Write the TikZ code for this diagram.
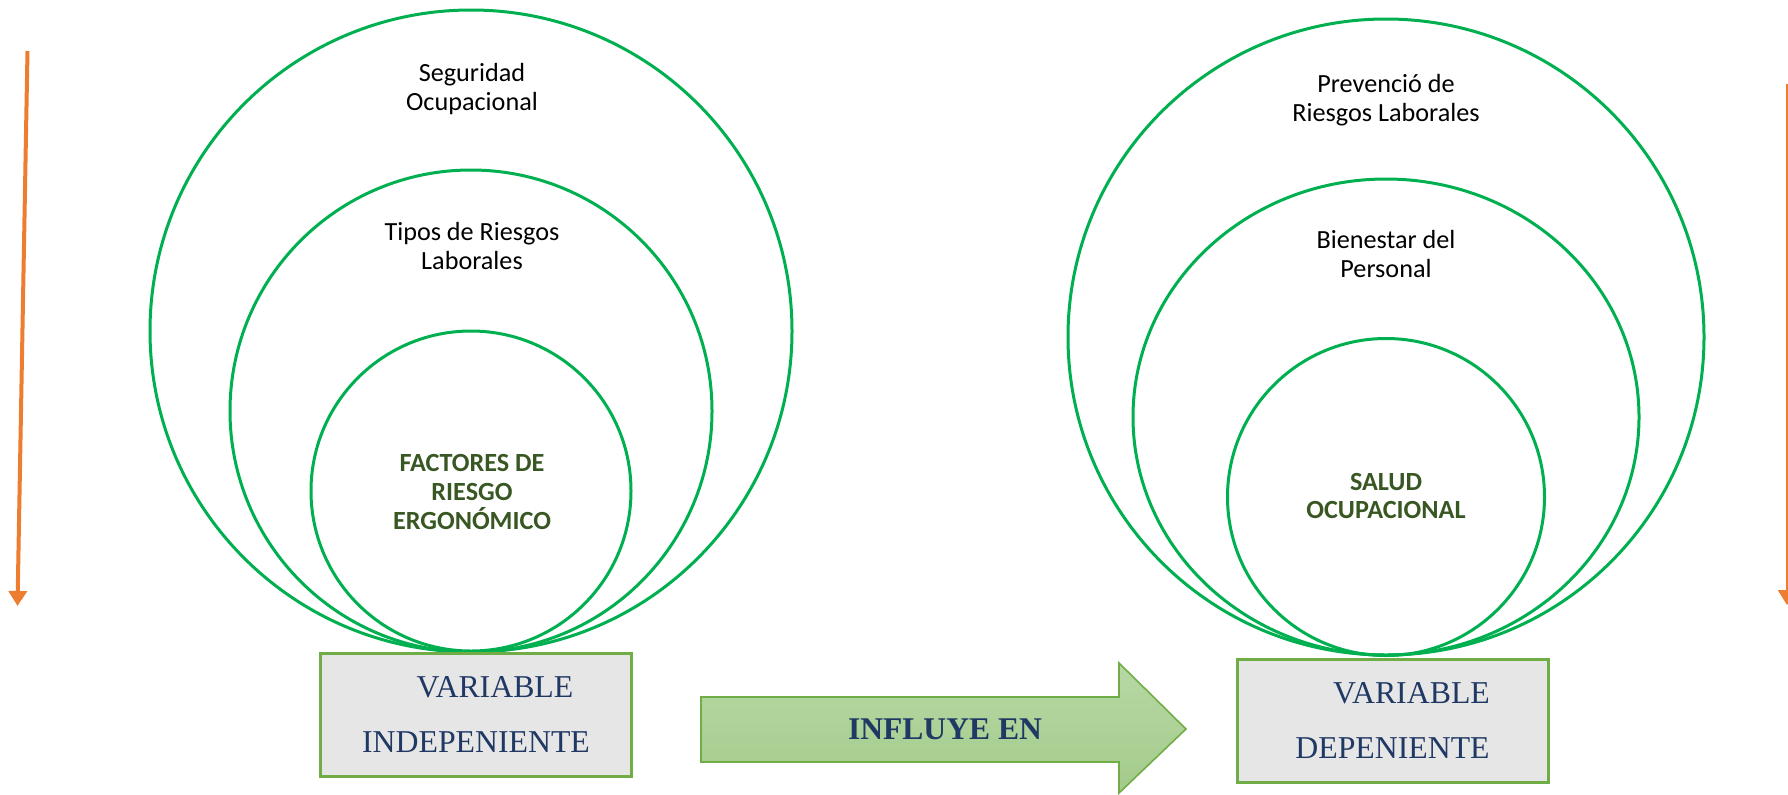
\documentclass[tikz,border=0pt]{standalone}
\usepackage{fontspec}
\setmainfont{Liberation Serif}
\newfontfamily\calibri{Carlito}
\usepackage{xcolor}
\definecolor{ringgreen}{RGB}{0, 176, 80}
\definecolor{coregreen}{RGB}{56, 87, 35}
\definecolor{navy}{RGB}{31, 56, 100}
\definecolor{boxgray}{RGB}{231, 230, 230}
\definecolor{boxedge}{RGB}{112, 173, 71}
\definecolor{arrowtop}{RGB}{183, 216, 164}
\definecolor{arrowbottom}{RGB}{163, 203, 139}
\definecolor{flowcolor}{RGB}{237, 125, 49}
\usepackage{tikz}
\usetikzlibrary{arrows.meta,shapes.geometric}

\tikzset{
  ring/.style = {
    draw        = ringgreen,
    line width  = 1.5pt,
    circle,
    inner sep   = 0pt
  },
  ringlabel/.style = {
    align       = center,
    inner sep   = 0pt,
    font        = \calibri\fontsize{13.1}{14.5}\selectfont
  },
  corelabel/.style = {
    align       = center,
    inner sep   = 0pt,
    text        = coregreen,
    font        = \calibri\bfseries\fontsize{13.1}{14.3}\selectfont
  },
  varbox/.style = {
    draw            = boxedge,
    line width      = 1.5pt,
    fill            = boxgray,
    minimum width   = 155.5pt,
    minimum height  = 61.5pt,
    align           = center,
    text            = navy,
    font            = \fontsize{15.9}{27.5}\selectfont
  },
  flow/.style = {
    draw        = flowcolor,
    line width  = 2pt,
    -{Triangle[length=7.5pt, width=9pt]}
  }
}

\begin{document}
\begin{tikzpicture}[x=0.5pt, y=-0.5pt]
  \useasboundingbox (0,0) rectangle (1788,794);

  \node[ring, minimum size=321pt] (seguridadRing) at (471,331) {};
  \node[ring, minimum size=241pt] (tiposRing) at (471,411) {};
  \node[ring, minimum size=160pt] (factoresRing) at (471,491) {};
  \node[ringlabel] (seguridad) at (472,89) {Seguridad\\Ocupacional};
  \node[ringlabel] (tipos) at (472,246) {Tipos de Riesgos\\Laborales};
  \node[corelabel] (factores) at (472,492) {FACTORES DE\\RIESGO\\ERGONÓMICO};

  \node[ring, minimum size=318pt] (prevencionRing) at (1386,337) {};
  \node[ring, ellipse, minimum width=253pt, minimum height=238pt] (bienestarRing) at (1386,417) {};
  \node[ring, minimum size=158.5pt] (saludRing) at (1386,497) {};
  \node[ringlabel] (prevencion) at (1386,100) {Prevenció de\\Riesgos Laborales};
  \node[ringlabel] (bienestar) at (1386,254) {Bienestar del\\Personal};
  \node[corelabel] (salud) at (1386,496) {SALUD\\OCUPACIONAL};

  \node[varbox] (independiente) at (476,714.5) {\hspace*{19pt}VARIABLE\\INDEPENIENTE};
  \node[varbox] (dependiente) at (1392.5,720.5) {\hspace*{19pt}VARIABLE\\DEPENIENTE};

  \draw[draw=boxedge, line width=0.8pt, top color=arrowtop, bottom color=arrowbottom]
    (701,697) -- (1119,697) -- (1119,663) -- (1186,729)
    -- (1119,793) -- (1119,762) -- (701,762) -- cycle;
  \node[text=navy, font=\bfseries\fontsize{15.8}{18}\selectfont] (influye) at (945,729) {INFLUYE EN};

  \coordinate (leftTop) at (27.5,51);
  \coordinate (leftEnd) at (17.5,606);
  \draw[flow] (leftTop) -- (leftEnd);
  \coordinate (rightTop) at (1787,84);
  \coordinate (rightEnd) at (1787,605);
  \draw[flow, line width=1pt] (rightTop) -- (rightEnd);
\end{tikzpicture}
\end{document}
